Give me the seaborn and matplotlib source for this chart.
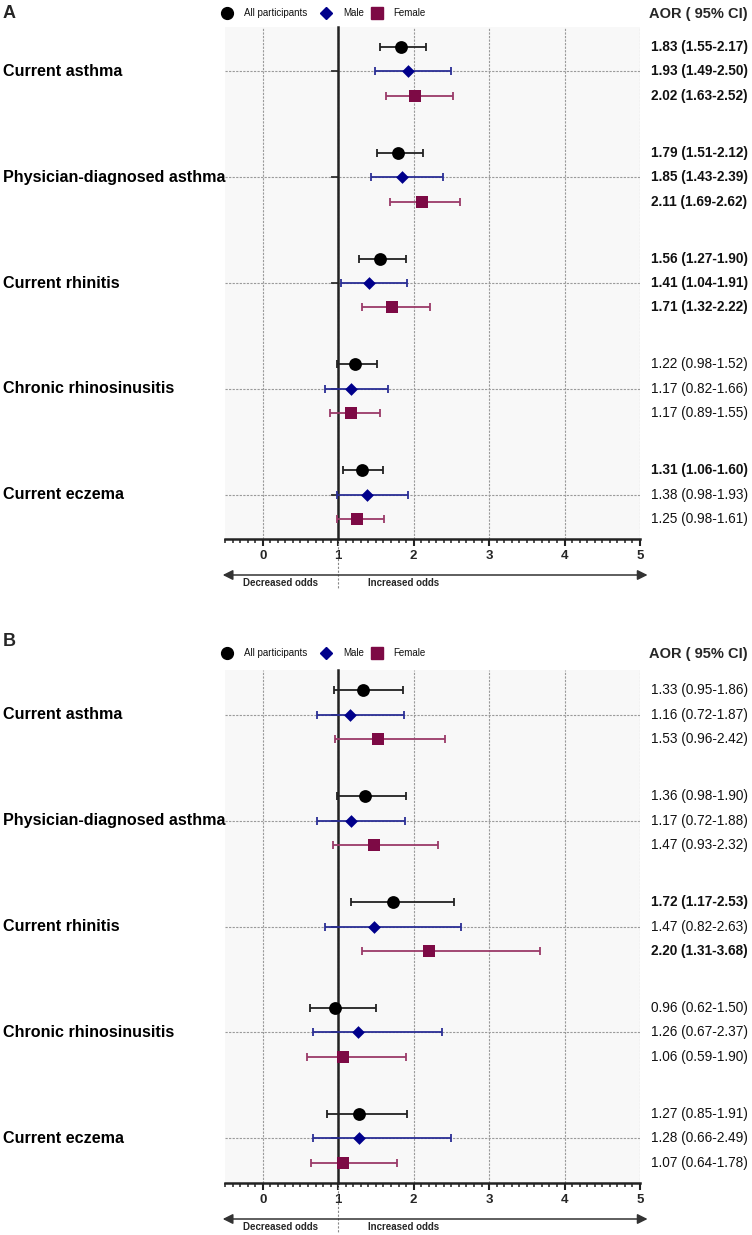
import matplotlib
matplotlib.use("Agg")
import matplotlib.pyplot as plt
import matplotlib.transforms as mtransforms
from matplotlib.lines import Line2D
from matplotlib.ticker import MultipleLocator
import seaborn as sns
import pandas as pd
import numpy as np

outcomes = ['Current asthma', 'Physician-diagnosed asthma', 'Current rhinitis',
            'Chronic rhinosinusitis', 'Current eczema']
groups = ['All participants', 'Male', 'Female']

# panel A
a_all = [1.83, 1.79, 1.56, 1.22, 1.31]
a_all_lo = [1.55, 1.51, 1.27, 0.98, 1.06]
a_all_hi = [2.17, 2.12, 1.90, 1.52, 1.60]
a_male = [1.93, 1.85, 1.41, 1.17, 1.38]
a_male_lo = [1.49, 1.43, 1.04, 0.82, 0.98]
a_male_hi = [2.50, 2.39, 1.91, 1.66, 1.93]
a_female = [2.02, 2.11, 1.71, 1.17, 1.25]
a_female_lo = [1.63, 1.69, 1.32, 0.89, 0.98]
a_female_hi = [2.52, 2.62, 2.22, 1.55, 1.61]

# panel B
b_all = [1.33, 1.36, 1.72, 0.96, 1.27]
b_all_lo = [0.95, 0.98, 1.17, 0.62, 0.85]
b_all_hi = [1.86, 1.90, 2.53, 1.50, 1.91]
b_male = [1.16, 1.17, 1.47, 1.26, 1.28]
b_male_lo = [0.72, 0.72, 0.82, 0.67, 0.66]
b_male_hi = [1.87, 1.88, 2.63, 2.37, 2.49]
b_female = [1.53, 1.47, 2.20, 1.06, 1.07]
b_female_lo = [0.96, 0.93, 1.31, 0.59, 0.64]
b_female_hi = [2.42, 2.32, 3.68, 1.90, 1.78]

x_ticks = [0, 1, 2, 3, 4, 5]

# styles
offset = {'All participants': -0.23, 'Male': 0.0, 'Female': 0.23}
markers = {'All participants': 'o', 'Male': 'D', 'Female': 's'}
sizes = {'All participants': 85, 'Male': 42, 'Female': 70}
leg_sizes = {'All participants': 8.5, 'Male': 6.0, 'Female': 8.0}
mcolors = {'All participants': '#000000', 'Male': '#00008b', 'Female': '#7d0a45'}
bcolors = {'All participants': '#222222', 'Male': '#2a2e95', 'Female': '#9a3a68'}

sns.set_theme(style='white')
plt.rcParams['font.family'] = ['Liberation Sans', 'DejaVu Sans']

W, H = 752, 1235
fig = plt.figure(figsize=(W / 100, H / 100), dpi=100)


def make_df(series):
    rows = []
    for g, (est, lo, hi) in zip(groups, series):
        for i, o in enumerate(outcomes):
            rows.append(dict(outcome=o, group=g, aor=est[i], lo=lo[i], hi=hi[i],
                             pos=i + offset[g]))
    return pd.DataFrame(rows)


def px_axes(top, bottom, left=225, right=640):
    return fig.add_axes([left / W, 1 - bottom / H, (right - left) / W, (bottom - top) / H])


def draw_panel(ax, df, top_px, bottom_px, letter, letter_y, legend_y):
    ax.set_facecolor('#f8f8f8')
    for g in groups:
        d = df[df.group == g]
        ax.errorbar(d.aor, d.pos, xerr=[d.aor - d.lo, d.hi - d.aor], fmt='none',
                    ecolor=bcolors[g], elinewidth=1.3, capsize=2.6, capthick=1.3, zorder=3)
        sns.scatterplot(data=d, x='aor', y='pos', marker=markers[g], s=sizes[g],
                        color=mcolors[g], linewidth=0, ax=ax, zorder=4, legend=False)

    ax.set_xlim(-0.5, 5)
    ax.set_ylim(4.42, -0.42)
    ax.set_xticks(x_ticks)
    ax.xaxis.set_minor_locator(MultipleLocator(0.1))
    ax.set_yticks(range(len(outcomes)))
    ax.set_yticklabels([])
    ax.set_xlabel('')
    ax.set_ylabel('')
    ax.grid(True, which='major', linestyle=(0, (2, 1.2)), color='#9a9a9a', linewidth=0.8)
    ax.set_axisbelow(True)
    for s in ['top', 'right']:
        ax.spines[s].set_visible(False)
    ax.spines['left'].set_position(('data', 1))
    ax.spines['left'].set_linewidth(1.8)
    ax.spines['left'].set_color('#222222')
    ax.spines['left'].set_zorder(2.5)
    ax.spines['bottom'].set_linewidth(1.8)
    ax.spines['bottom'].set_color('#222222')
    ax.tick_params(axis='x', which='major', length=5, width=1.5, color='#222222',
                   labelsize=9.5, pad=3, bottom=True)
    ax.tick_params(axis='x', which='minor', length=3, width=1.1, color='#222222', bottom=True)
    ax.tick_params(axis='y', which='major', length=5, width=1.2, color='#222222', left=True)
    for lab in ax.get_xticklabels():
        lab.set_fontweight('bold')

    # category names and estimates
    tr = mtransforms.blended_transform_factory(fig.transFigure, ax.transData)
    for i, o in enumerate(outcomes):
        ax.text(3 / W, i, o, transform=tr, ha='left', va='center',
                fontsize=11.6, fontweight='bold', color='black')
    for _, r in df.iterrows():
        txt = f"{r.aor:.2f} ({r.lo:.2f}-{r.hi:.2f})"
        ax.text(651 / W, r.pos, txt, transform=tr, ha='left', va='center', fontsize=9.8,
                fontweight='bold' if r.lo > 1 else 'normal', color='#111111')

    # odds arrow below the axis
    hpx = bottom_px - top_px
    xt = ax.get_xaxis_transform()
    ya = -36 / hpx
    ax.annotate('', xy=(-0.53, ya), xytext=(5.1, ya), xycoords=xt, textcoords=xt,
                arrowprops=dict(arrowstyle='<|-|>,head_length=0.6,head_width=0.3',
                                color='#333333', lw=1.1, mutation_scale=10,
                                shrinkA=0, shrinkB=0))
    ax.plot([1, 1], [0, -50 / hpx], transform=xt, clip_on=False, color='#888888',
            lw=0.8, linestyle=(0, (2, 1.5)))
    ax.text(0.73, -44 / hpx, 'Decreased odds', transform=xt, ha='right', va='center',
            fontsize=7, fontweight='bold')
    ax.text(1.4, -44 / hpx, 'Increased odds', transform=xt, ha='left', va='center',
            fontsize=7, fontweight='bold')

    # header row
    fig.text(3 / W, 1 - letter_y / H, letter, ha='left', va='center', fontsize=13,
             fontweight='bold')
    fig.text(748 / W, 1 - (legend_y + 1) / H, 'AOR ( 95% CI)', ha='right', va='center',
             fontsize=10.5, fontweight='bold')
    leg_marker_x = [227, 326, 377]
    leg_text_x = [244, 343, 393]
    for g, mx, tx in zip(groups, leg_marker_x, leg_text_x):
        fig.add_artist(Line2D([mx / W], [1 - legend_y / H], marker=markers[g],
                              markersize=leg_sizes[g], color=mcolors[g],
                              linestyle='none', transform=fig.transFigure))
        fig.text(tx / W, 1 - legend_y / H, g, ha='left', va='center', fontsize=7,
                 color='#111111')


ax_a = px_axes(27, 539)
draw_panel(ax_a, make_df([(a_all, a_all_lo, a_all_hi), (a_male, a_male_lo, a_male_hi),
                          (a_female, a_female_lo, a_female_hi)]), 27, 539, 'A', 13, 13)

ax_b = px_axes(670, 1183)
draw_panel(ax_b, make_df([(b_all, b_all_lo, b_all_hi), (b_male, b_male_lo, b_male_hi),
                          (b_female, b_female_lo, b_female_hi)]), 670, 1183, 'B', 642, 653)

fig.savefig('out.png', dpi=100, facecolor='white')
